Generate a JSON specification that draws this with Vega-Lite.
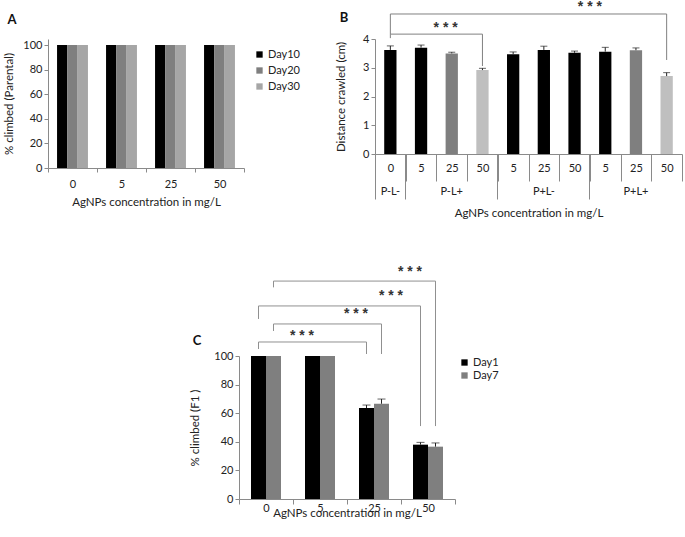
{
  "$schema": "https://vega.github.io/schema/vega-lite/v6.json",
  "padding": {"left": 3, "top": 0, "right": 0, "bottom": 0},
  "config": {
    "font": "Lato",
    "view": {"stroke": null},
    "axis": {"grid": false, "labelOverlap": false, "domainColor": "#8a8a8a", "tickColor": "#8a8a8a", "labelColor": "#222", "titleColor": "#222", "labelFontSize": 11, "titleFontSize": 11.5, "titleFontWeight": "normal", "tickSize": 4},
    "legend": {"labelFontSize": 11, "labelColor": "#222"}
  },
  "spacing": 46,
  "resolve": {"scale": {"color": "independent"}},
  "vconcat": [
    {
      "spacing": 131,
      "bounds": "flush",
      "resolve": {"scale": {"color": "independent"}},
      "hconcat": [
        {
          "width": 196, "height": 129,
          "data": {"values": [
            {"conc": "0", "day": "Day10", "v": 100}, {"conc": "0", "day": "Day20", "v": 100}, {"conc": "0", "day": "Day30", "v": 100},
            {"conc": "5", "day": "Day10", "v": 100}, {"conc": "5", "day": "Day20", "v": 100}, {"conc": "5", "day": "Day30", "v": 100},
            {"conc": "25", "day": "Day10", "v": 100}, {"conc": "25", "day": "Day20", "v": 100}, {"conc": "25", "day": "Day30", "v": 100},
            {"conc": "50", "day": "Day10", "v": 100}, {"conc": "50", "day": "Day20", "v": 100}, {"conc": "50", "day": "Day30", "v": 100}
          ]},
          "encoding": {
            "x": {"field": "conc", "type": "ordinal", "sort": ["0", "5", "25", "50"],
              "scale": {"paddingInner": 0, "paddingOuter": 0},
              "axis": {"title": "AgNPs concentration in mg/L", "labelAngle": 0, "tickBand": "extent", "labelPadding": 6, "titlePadding": 7}},
            "y": {"field": "v", "type": "quantitative", "scale": {"domain": [0, 104.9], "nice": false},
              "axis": {"title": "% climbed (Parental)", "values": [0, 20, 40, 60, 80, 100], "titlePadding": 8.5, "labelOverlap": false}},
            "color": {"field": "day", "type": "nominal", "scale": {"domain": ["Day10", "Day20", "Day30"], "range": ["#000000", "#7f7f7f", "#a6a6a6"]},
              "legend": {"title": null, "orient": "right", "offset": 0, "padding": 10, "symbolType": "square", "symbolSize": 40, "symbolStrokeWidth": 0, "rowPadding": 4, "labelOffset": 3}}
          },
          "layer": [
            {"transform": [{"filter": "datum.day === 'Day10'"}], "mark": {"type": "bar", "width": 10.3, "xOffset": -10.3}},
            {"transform": [{"filter": "datum.day === 'Day20'"}], "mark": {"type": "bar", "width": 10.3, "xOffset": 0}},
            {"transform": [{"filter": "datum.day === 'Day30'"}], "mark": {"type": "bar", "width": 10.3, "xOffset": 10.3}},
            {
              "data": {"values": [{"conc": "0", "y": 120, "t": "A"}]},
              "mark": {"type": "text", "fontSize": 13, "fontWeight": "bold", "color": "#111", "dx": -36, "baseline": "middle"},
              "encoding": {
                "x": {"field": "conc", "type": "ordinal", "sort": ["0", "5", "25", "50"], "bandPosition": 0},
                "y": {"field": "y", "type": "quantitative", "axis": {"title": "% climbed (Parental)", "values": [0, 20, 40, 60, 80, 100], "titlePadding": 8.5, "labelOverlap": false}},
                "text": {"field": "t"},
                "color": {"value": "#111"}
              }
            }
          ]
        },
        {
          "width": 307, "height": 115,
          "resolve": {"axis": {"x": "independent"}},
          "layer": [
            {
              "data": {"values": [
                {"id": "P-L- 0", "shade": "black", "v": 3.62},
                {"id": "P-L+ 5", "shade": "black", "v": 3.70},
                {"id": "P-L+ 25", "shade": "gray", "v": 3.50},
                {"id": "P-L+ 50", "shade": "light", "v": 2.92},
                {"id": "P+L- 5", "shade": "black", "v": 3.47},
                {"id": "P+L- 25", "shade": "black", "v": 3.62},
                {"id": "P+L- 50", "shade": "black", "v": 3.52},
                {"id": "P+L+ 5", "shade": "black", "v": 3.56},
                {"id": "P+L+ 25", "shade": "gray", "v": 3.61},
                {"id": "P+L+ 50", "shade": "light", "v": 2.71}
              ]},
              "mark": {"type": "bar", "width": {"band": 0.4}},
              "encoding": {
                "x": {"field": "id", "type": "nominal", "sort": ["P-L- 0","P-L+ 5","P-L+ 25","P-L+ 50","P+L- 5","P+L- 25","P+L- 50","P+L+ 5","P+L+ 25","P+L+ 50"],
                  "scale": {"paddingInner": 0, "paddingOuter": 0},
                  "axis": {"orient": "bottom", "title": null, "labelExpr": "split(datum.value, ' ')[1]", "labelAngle": 0, "tickBand": "extent", "tickSize": 27, "labelPadding": -18.5}},
                "y": {"field": "v", "type": "quantitative", "scale": {"domain": [0, 4], "nice": false},
                  "axis": {"title": "Distance crawled (cm)", "values": [0, 1, 2, 3, 4], "titlePadding": 16, "labelOverlap": false}},
                "color": {"field": "shade", "type": "nominal", "scale": {"domain": ["black", "gray", "light"], "range": ["#000000", "#7f7f7f", "#bfbfbf"]}, "legend": null}
              }
            },
            {
              "data": {"values": [
                {"id": "P-L- 0", "v": 3.62, "hi": 3.76},
                {"id": "P-L+ 5", "v": 3.70, "hi": 3.79},
                {"id": "P-L+ 25", "v": 3.50, "hi": 3.54},
                {"id": "P-L+ 50", "v": 2.92, "hi": 2.98},
                {"id": "P+L- 5", "v": 3.47, "hi": 3.55},
                {"id": "P+L- 25", "v": 3.62, "hi": 3.75},
                {"id": "P+L- 50", "v": 3.52, "hi": 3.58},
                {"id": "P+L+ 5", "v": 3.56, "hi": 3.71},
                {"id": "P+L+ 25", "v": 3.61, "hi": 3.69},
                {"id": "P+L+ 50", "v": 2.71, "hi": 2.83}
              ]},
              "layer": [
                {
                  "mark": {"type": "rule", "color": "#222", "strokeWidth": 1},
                  "encoding": {
                    "x": {"field": "id", "type": "nominal", "sort": ["P-L- 0","P-L+ 5","P-L+ 25","P-L+ 50","P+L- 5","P+L- 25","P+L- 50","P+L+ 5","P+L+ 25","P+L+ 50"], "axis": null},
                    "y": {"field": "v", "type": "quantitative", "axis": {"title": "Distance crawled (cm)", "values": [0, 1, 2, 3, 4], "titlePadding": 16, "labelOverlap": false}},
                    "y2": {"field": "hi"}
                  }
                },
                {
                  "mark": {"type": "tick", "orient": "horizontal", "size": 7, "thickness": 1, "color": "#222"},
                  "encoding": {
                    "x": {"field": "id", "type": "nominal", "sort": ["P-L- 0","P-L+ 5","P-L+ 25","P-L+ 50","P+L- 5","P+L- 25","P+L- 50","P+L+ 5","P+L+ 25","P+L+ 50"], "axis": null},
                    "y": {"field": "hi", "type": "quantitative", "axis": {"title": "Distance crawled (cm)", "values": [0, 1, 2, 3, 4], "titlePadding": 16, "labelOverlap": false}}
                  }
                }
              ]
            },
            {
              "data": {"values": [{"id": "P-L- 0", "v": 0}]},
              "mark": {"type": "text", "text": ""},
              "encoding": {
                "x": {"field": "id", "type": "nominal", "sort": ["P-L- 0","P-L+ 5","P-L+ 25","P-L+ 50","P+L- 5","P+L- 25","P+L- 50","P+L+ 5","P+L+ 25","P+L+ 50"],
                  "axis": {"orient": "bottom", "title": "AgNPs concentration in mg/L", "values": ["P-L- 0", "P-L+ 25", "P+L- 25", "P+L+ 25"], "labelExpr": "split(datum.value, ' ')[0]", "labelAngle": 0, "ticks": false, "tickSize": 0, "domain": false, "labelPadding": 31, "titlePadding": 11}},
                "y": {"field": "v", "type": "quantitative", "axis": {"title": "Distance crawled (cm)", "values": [0, 1, 2, 3, 4], "titlePadding": 16, "labelOverlap": false}}
              }
            },
            {
              "data": {"values": [{"id": "P-L- 0", "v": 0}]},
              "mark": {"type": "text", "text": ""},
              "encoding": {
                "x": {"field": "id", "type": "nominal", "sort": ["P-L- 0","P-L+ 5","P-L+ 25","P-L+ 50","P+L- 5","P+L- 25","P+L- 50","P+L+ 5","P+L+ 25","P+L+ 50"],
                  "axis": {"orient": "bottom", "title": null, "values": ["P-L- 0", "P-L+ 5", "P+L- 5", "P+L+ 5"], "labels": false, "domain": false, "bandPosition": 0, "tickExtra": false, "tickSize": 45}},
                "y": {"field": "v", "type": "quantitative", "axis": {"title": "Distance crawled (cm)", "values": [0, 1, 2, 3, 4], "titlePadding": 16, "labelOverlap": false}}
              }
            },
            {
              "data": {"values": [
                {"br": "b1", "o": 1, "id": "P-L- 0", "y": 4.17},
                {"br": "b1", "o": 2, "id": "P-L- 0", "y": 4.87},
                {"br": "b1", "o": 3, "id": "P+L+ 50", "y": 4.87},
                {"br": "b1", "o": 4, "id": "P+L+ 50", "y": 3.27},
                {"br": "b2", "o": 1, "id": "P-L- 0", "y": 4.03},
                {"br": "b2", "o": 2, "id": "P-L- 0", "y": 4.17},
                {"br": "b2", "o": 3, "id": "P-L+ 50", "y": 4.17},
                {"br": "b2", "o": 4, "id": "P-L+ 50", "y": 3.06}
              ]},
              "mark": {"type": "line", "color": "#808080", "strokeWidth": 1},
              "encoding": {
                "x": {"field": "id", "type": "nominal", "sort": ["P-L- 0","P-L+ 5","P-L+ 25","P-L+ 50","P+L- 5","P+L- 25","P+L- 50","P+L+ 5","P+L+ 25","P+L+ 50"], "axis": null},
                "y": {"field": "y", "type": "quantitative", "axis": {"title": "Distance crawled (cm)", "values": [0, 1, 2, 3, 4], "titlePadding": 16, "labelOverlap": false}},
                "detail": {"field": "br"},
                "order": {"field": "o", "type": "quantitative"}
              }
            },
            {
              "data": {"values": [{"id": "P+L+ 5", "y": 5.11, "t": "* * *"}]},
              "mark": {"type": "text", "font": "Liberation Sans", "fontWeight": "bold", "fontSize": 14, "color": "#333", "baseline": "middle"},
              "encoding": {
                "x": {"field": "id", "type": "nominal", "sort": ["P-L- 0","P-L+ 5","P-L+ 25","P-L+ 50","P+L- 5","P+L- 25","P+L- 50","P+L+ 5","P+L+ 25","P+L+ 50"], "bandPosition": 0, "axis": null},
                "y": {"field": "y", "type": "quantitative", "axis": {"title": "Distance crawled (cm)", "values": [0, 1, 2, 3, 4], "titlePadding": 16, "labelOverlap": false}},
                "text": {"field": "t"}
              }
            },
            {
              "data": {"values": [{"id": "P-L+ 25", "y": 4.38, "t": "* * *"}]},
              "mark": {"type": "text", "font": "Liberation Sans", "fontWeight": "bold", "fontSize": 14, "color": "#333", "baseline": "middle"},
              "encoding": {
                "x": {"field": "id", "type": "nominal", "sort": ["P-L- 0","P-L+ 5","P-L+ 25","P-L+ 50","P+L- 5","P+L- 25","P+L- 50","P+L+ 5","P+L+ 25","P+L+ 50"], "bandPosition": 0.3, "axis": null},
                "y": {"field": "y", "type": "quantitative", "axis": {"title": "Distance crawled (cm)", "values": [0, 1, 2, 3, 4], "titlePadding": 16, "labelOverlap": false}},
                "text": {"field": "t"}
              }
            },
            {
              "data": {"values": [{"id": "P-L- 0", "y": 4.73, "t": "B"}]},
              "mark": {"type": "text", "fontSize": 13, "fontWeight": "bold", "color": "#111", "dx": -31, "baseline": "middle"},
              "encoding": {
                "x": {"field": "id", "type": "nominal", "sort": ["P-L- 0","P-L+ 5","P-L+ 25","P-L+ 50","P+L- 5","P+L- 25","P+L- 50","P+L+ 5","P+L+ 25","P+L+ 50"], "bandPosition": 0, "axis": null},
                "y": {"field": "y", "type": "quantitative", "axis": {"title": "Distance crawled (cm)", "values": [0, 1, 2, 3, 4], "titlePadding": 16, "labelOverlap": false}},
                "text": {"field": "t"}
              }
            }
          ]
        }
      ]
    },
    {
      "spacing": 0,
      "bounds": "flush",
      "hconcat": [
        {
          "width": 191, "height": 1,
          "data": {"values": [{"k": 0}]},
          "mark": {"type": "text", "text": ""},
          "encoding": {}
        },
        {
          "width": 216, "height": 143,
          "layer": [
            {
              "data": {"values": [
                {"conc": "0", "day": "Day1", "v": 100}, {"conc": "0", "day": "Day7", "v": 100},
                {"conc": "5", "day": "Day1", "v": 100}, {"conc": "5", "day": "Day7", "v": 100},
                {"conc": "25", "day": "Day1", "v": 63.6, "hi": 65.7}, {"conc": "25", "day": "Day7", "v": 66.6, "hi": 69.9},
                {"conc": "50", "day": "Day1", "v": 38.0, "hi": 39.6}, {"conc": "50", "day": "Day7", "v": 36.6, "hi": 39.2}
              ]},
              "encoding": {
                "x": {"field": "conc", "type": "ordinal", "sort": ["0", "5", "25", "50"],
                  "scale": {"paddingInner": 0, "paddingOuter": 0},
                  "axis": {"title": "AgNPs concentration in mg/L", "labelAngle": 0, "tickBand": "extent", "tickSize": 5, "labelPadding": -2, "titlePadding": -6}},
                "y": {"field": "v", "type": "quantitative", "scale": {"domain": [0, 100], "nice": false},
                  "axis": {"title": "% climbed (F1 )", "values": [0, 20, 40, 60, 80, 100], "titlePadding": 13, "labelOverlap": false}}
              },
              "layer": [
                {
                  "transform": [{"filter": "datum.day === 'Day1'"}],
                  "mark": {"type": "bar", "width": 15, "xOffset": -7.5},
                  "encoding": {"color": {"field": "day", "type": "nominal", "scale": {"domain": ["Day1", "Day7"], "range": ["#000000", "#7f7f7f"]},
                    "legend": {"title": null, "orient": "right", "offset": 2, "padding": 1, "symbolType": "square", "symbolSize": 40, "symbolStrokeWidth": 0, "rowPadding": 1, "labelOffset": 3}}}
                },
                {
                  "transform": [{"filter": "datum.day === 'Day7'"}],
                  "mark": {"type": "bar", "width": 15, "xOffset": 7.5},
                  "encoding": {"color": {"field": "day", "type": "nominal"}}
                },
                {
                  "transform": [{"filter": "datum.day === 'Day1' && isValid(datum.hi)"}],
                  "mark": {"type": "rule", "color": "#222", "strokeWidth": 1, "xOffset": -7.5},
                  "encoding": {"y2": {"field": "hi"}}
                },
                {
                  "transform": [{"filter": "datum.day === 'Day7' && isValid(datum.hi)"}],
                  "mark": {"type": "rule", "color": "#222", "strokeWidth": 1, "xOffset": 7.5},
                  "encoding": {"y2": {"field": "hi"}}
                },
                {
                  "transform": [{"filter": "datum.day === 'Day1' && isValid(datum.hi)"}],
                  "mark": {"type": "tick", "orient": "horizontal", "size": 8, "thickness": 1, "color": "#222", "xOffset": -7.5},
                  "encoding": {"y": {"field": "hi", "type": "quantitative", "axis": {"title": "% climbed (F1 )", "values": [0, 20, 40, 60, 80, 100], "titlePadding": 13, "labelOverlap": false}}}
                },
                {
                  "transform": [{"filter": "datum.day === 'Day7' && isValid(datum.hi)"}],
                  "mark": {"type": "tick", "orient": "horizontal", "size": 8, "thickness": 1, "color": "#222", "xOffset": 7.5},
                  "encoding": {"y": {"field": "hi", "type": "quantitative", "axis": {"title": "% climbed (F1 )", "values": [0, 20, 40, 60, 80, 100], "titlePadding": 13, "labelOverlap": false}}}
                }
              ]
            },
            {
              "data": {"values": [
                {"br": "b1", "o": 1, "conc": "0", "day": "Day1", "y": 104.9},
                {"br": "b1", "o": 2, "conc": "0", "day": "Day1", "y": 109.8},
                {"br": "b1", "o": 3, "conc": "25", "day": "Day1", "y": 109.8},
                {"br": "b1", "o": 4, "conc": "25", "day": "Day1", "y": 101.4},
                {"br": "b2", "o": 1, "conc": "0", "day": "Day7", "y": 117.5},
                {"br": "b2", "o": 2, "conc": "0", "day": "Day7", "y": 122.4},
                {"br": "b2", "o": 3, "conc": "25", "day": "Day7", "y": 122.4},
                {"br": "b2", "o": 4, "conc": "25", "day": "Day7", "y": 101.4},
                {"br": "b3", "o": 1, "conc": "0", "day": "Day1", "y": 125.9},
                {"br": "b3", "o": 2, "conc": "0", "day": "Day1", "y": 135.0},
                {"br": "b3", "o": 3, "conc": "50", "day": "Day1", "y": 135.0},
                {"br": "b3", "o": 4, "conc": "50", "day": "Day1", "y": 51.0},
                {"br": "b4", "o": 1, "conc": "0", "day": "Day7", "y": 148.0},
                {"br": "b4", "o": 2, "conc": "0", "day": "Day7", "y": 152.4},
                {"br": "b4", "o": 3, "conc": "50", "day": "Day7", "y": 152.4},
                {"br": "b4", "o": 4, "conc": "50", "day": "Day7", "y": 51.0}
              ]},
              "encoding": {
                "x": {"field": "conc", "type": "ordinal", "sort": ["0", "5", "25", "50"]},
                "y": {"field": "y", "type": "quantitative", "axis": {"title": "% climbed (F1 )", "values": [0, 20, 40, 60, 80, 100], "titlePadding": 13, "labelOverlap": false}},
                "detail": {"field": "br"},
                "order": {"field": "o", "type": "quantitative"}
              },
              "layer": [
                {"transform": [{"filter": "datum.day === 'Day1'"}], "mark": {"type": "line", "color": "#909090", "strokeWidth": 1, "xOffset": -7.5}},
                {"transform": [{"filter": "datum.day === 'Day7'"}], "mark": {"type": "line", "color": "#909090", "strokeWidth": 1, "xOffset": 7.5}}
              ]
            },
            {
              "data": {"values": [
                {"conc": "5", "y": 114.0, "t": "* * *"},
                {"conc": "25", "y": 129.4, "t": "* * *"},
                {"conc": "50", "y": 158.7, "t": "* * *"}
              ]},
              "mark": {"type": "text", "font": "Liberation Sans", "fontWeight": "bold", "fontSize": 14, "color": "#333", "baseline": "middle", "dx": -18},
              "encoding": {
                "x": {"field": "conc", "type": "ordinal", "sort": ["0", "5", "25", "50"]},
                "y": {"field": "y", "type": "quantitative", "axis": {"title": "% climbed (F1 )", "values": [0, 20, 40, 60, 80, 100], "titlePadding": 13, "labelOverlap": false}},
                "text": {"field": "t"}
              }
            },
            {
              "data": {"values": [{"conc": "25", "y": 142.0, "t": "* * *"}]},
              "mark": {"type": "text", "font": "Liberation Sans", "fontWeight": "bold", "fontSize": 14, "color": "#333", "baseline": "middle", "dx": 17},
              "encoding": {
                "x": {"field": "conc", "type": "ordinal", "sort": ["0", "5", "25", "50"]},
                "y": {"field": "y", "type": "quantitative", "axis": {"title": "% climbed (F1 )", "values": [0, 20, 40, 60, 80, 100], "titlePadding": 13, "labelOverlap": false}},
                "text": {"field": "t"}
              }
            },
            {
              "data": {"values": [{"conc": "0", "y": 110.5, "t": "C"}]},
              "mark": {"type": "text", "fontSize": 13, "fontWeight": "bold", "color": "#111", "dx": -42, "baseline": "middle"},
              "encoding": {
                "x": {"field": "conc", "type": "ordinal", "sort": ["0", "5", "25", "50"], "bandPosition": 0},
                "y": {"field": "y", "type": "quantitative", "axis": {"title": "% climbed (F1 )", "values": [0, 20, 40, 60, 80, 100], "titlePadding": 13, "labelOverlap": false}},
                "text": {"field": "t"}
              }
            }
          ]
        }
      ]
    }
  ]
}
